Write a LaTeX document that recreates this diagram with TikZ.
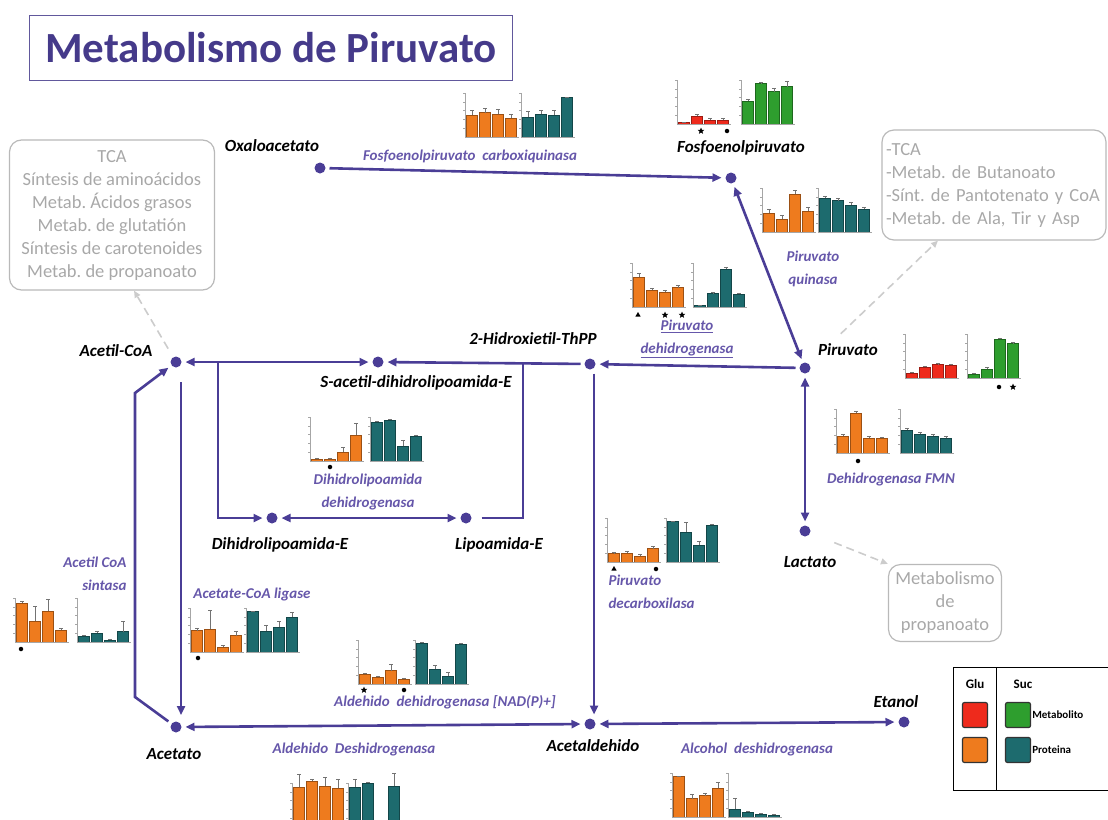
\documentclass[tikz,border=0pt]{standalone}
\usepackage{fontspec}
\setmainfont{Carlito}
\frenchspacing
\usetikzlibrary{arrows.meta,shapes.geometric,positioning,calc}

\definecolor{pathc}{HTML}{4A3D96}
\definecolor{enzc}{HTML}{6657AA}
\definecolor{grayt}{HTML}{A8A8A8}
\definecolor{titc}{HTML}{453A8A}
\definecolor{glured}{HTML}{EE2A1C}
\definecolor{gluorange}{HTML}{EE7B1E}
\definecolor{sucgreen}{HTML}{2E9E2E}
\definecolor{sucteal}{HTML}{1D6B6E}

\tikzset{
  >={Triangle[length=9pt,width=8pt]},
  met/.style={circle, fill=pathc, inner sep=0pt, minimum size=11pt, outer sep=4pt},
  metlabel/.style={font=\fontsize{17}{20}\selectfont\bfseries\itshape},
  enz/.style={font=\fontsize{15}{23}\selectfont\bfseries\itshape, text=enzc, align=center},
  rxn/.style={draw=pathc, line width=2.6pt, ->},
  rxnboth/.style={draw=pathc, line width=2.6pt, <->},
  link/.style={draw=pathc, line width=2.6pt},
  graybox/.style={draw=gray!55, line width=1.2pt, rounded corners=12pt, text=grayt,
    font=\fontsize{18.5}{23}\selectfont, align=center, inner sep=2pt},
  graylink/.style={draw=gray!40, line width=1.6pt, dash pattern=on 8pt off 5pt,
    -{Triangle[length=7pt,width=6pt]}},
  axisline/.style={draw=gray!70, line width=0.4pt},
  errbar/.style={draw=black!55, line width=0.4pt},
  sigdot/.style={circle, fill=black, inner sep=0pt, minimum size=4.5pt},
  sigstar/.style={star, star points=5, star point ratio=2.3, fill=black, inner sep=0pt, minimum size=7pt},
  sigtri/.style={regular polygon, regular polygon sides=3, fill=black, inner sep=0pt, minimum size=6pt},
  legsq/.style={draw=black!80, line width=1.2pt, rounded corners=2pt, minimum size=25pt, inner sep=0pt},
  legtext/.style={font=\fontsize{11}{13}\selectfont\bfseries, anchor=west, inner sep=0pt},
}

% one panel of four bars: x, baseline y, colour, heights/errors
\newcommand{\barpanel}[4]{%
  \foreach \h/\e [count=\i] in {#4}{%
    \pgfmathsetmacro{\bx}{#1+1.5+13*(\i-1)}%
    \filldraw[fill=#3, draw=#3!65!black, line width=0.4pt] (\bx,#2) rectangle ++(11,-42*\h);
    \draw[errbar] (\bx+5.5,#2-42*\h) -- ++(0,-42*\e) ++(-2,0) -- ++(4,0);
  }
  \draw[axisline] (#1,#2) -- ++(0,-44);
  \foreach \t in {1,...,5} \draw[axisline] (#1,#2-8.8*\t) -- ++(-2,0);
  \draw[axisline] (#1,#2) -- ++(54,0);
}

\begin{document}
\begin{tikzpicture}[x=1pt, y=-1pt]
\useasboundingbox (0,0) rectangle (1108,819);

% title
\node[draw=titc!85, line width=1pt, minimum width=483pt, minimum height=65pt,
  font=\fontsize{43}{46}\selectfont\bfseries, text=titc] (title) at (271,48) {Metabolismo de Piruvato};

% metabolites
\node[met] (oxa) at (320,168) {};
\node[met] (pep) at (731,178) {};
\node[met] (pyr) at (805,368) {};
\node[met] (hte) at (590,364) {};
\node[met] (sac) at (378,362) {};
\node[met] (acoa) at (176,362) {};
\node[met] (dle) at (272,518) {};
\node[met] (lpe) at (466,518) {};
\node[met] (lac) at (805,531) {};
\node[met] (ace) at (176,727) {};
\node[met] (ald) at (590,724) {};
\node[met] (eth) at (904,722) {};

\node[metlabel] (oxalabel) at (272,146) {Oxaloacetato};
\node[metlabel] (peplabel) at (741,148) {Fosfoenolpiruvato};
\node[metlabel] (pyrlabel) at (848,350) {Piruvato};
\node[metlabel] (htelabel) at (533,339) {2-Hidroxietil-ThPP};
\node[metlabel] (saclabel) at (416,383) {S-acetil-dihidrolipoamida-E};
\node[metlabel] (acoalabel) at (116,351) {Acetil-CoA};
\node[metlabel] (dlelabel) at (280,545) {Dihidrolipoamida-E};
\node[metlabel] (lpelabel) at (499,545) {Lipoamida-E};
\node[metlabel] (laclabel) at (810,562) {Lactato};
\node[metlabel] (acelabel) at (174,754) {Acetato};
\node[metlabel] (aldlabel) at (593,746) {Acetaldehido};
\node[metlabel] (ethlabel) at (896,702) {Etanol};

% enzymes
\node[enz] (pepck) at (470,156) {Fosfoenolpiruvato\ \ carboxiquinasa};
\node[enz] (pk) at (813,269) {Piruvato\\quinasa};
\node[enz] (pdh) at (687,339) {\underline{Piruvato}\\\underline{dehidrogenasa}};
\node[enz] (dld) at (368,492) {Dihidrolipoamida\\dehidrogenasa};
\node[enz] (fmn) at (891,479) {Dehidrogenasa FMN};
\node[enz, align=left, anchor=west] (pdc) at (605,592) {Piruvato\\decarboxilasa};
\node[enz, align=right, anchor=east] (acs) at (130,574) {Acetil CoA\\sintasa};
\node[enz] (acl) at (252,594) {Acetate-CoA ligase};
\node[enz] (aldhnad) at (445,702) {Aldehido\ \ dehidrogenasa [NAD(P)+]};
\node[enz] (aldh) at (354,749) {Aldehido\ \ Deshidrogenasa};
\node[enz] (adh) at (757,749) {Alcohol\ \ deshidrogenasa};

% other pathways
\node[graybox, minimum width=205pt, minimum height=150pt] (leftbox) at (112,215)
  {TCA\\Síntesis de aminoácidos\\Metab. Ácidos grasos\\Metab. de glutatión\\Síntesis de carotenoides\\Metab. de propanoato};
\node[graybox, minimum width=224pt, minimum height=110pt, align=left, text width=216pt] (rightbox) at (994,185)
  {-TCA\\-Metab. de Butanoato\\-Sínt. de Pantotenato y CoA\\-Metab. de Ala, Tir y Asp};
\node[graybox, minimum width=113pt, minimum height=77pt] (lacbox) at (945,603)
  {Metabolismo\\de\\propanoato};

% reactions
\draw[rxn] (oxa) -- (pep);
\draw[rxnboth] (pep) -- (pyr);
\draw[rxn] (pyr) -- (hte);
\draw[rxn] (hte) -- (sac);
\draw[rxnboth] (acoa) -- (sac);
\coordinate (lpejoin) at (523,364);
\draw[link, shorten <=6pt] (lpe) -- (lpe -| lpejoin) -- (lpejoin);
\coordinate (dlejoin) at (218,362);
\draw[rxn] (dlejoin) |- (dle);
\draw[rxnboth] (dle) -- (lpe);
\draw[rxnboth] (pyr) -- (lac);
\draw[rxn] ([xshift=4pt]hte.south) -- ([xshift=4pt]ald.north);
\draw[rxnboth] (ald) -- (eth);
\draw[rxnboth] (ace) -- (ald);
\draw[rxn] ([xshift=5pt,yshift=-20pt]acoa.center) -- ([xshift=5pt,yshift=12pt]ace.center);
\draw[rxn] (ace) -- (135,697) -- (135,393) -- (acoa);

% links to other pathways
\draw[graylink, shorten <=6pt] (acoa) -- ([xshift=22pt]leftbox.south);
\draw[graylink, shorten <=40pt] (pyr) -- ([xshift=-56pt]rightbox.south);
\draw[graylink, shorten <=22pt] (lac) -- (lacbox.north west);

% bar charts
\barpanel{465}{137}{gluorange}{0.52/0.12,0.58/0.1,0.54/0.12,0.45/0.1}
\barpanel{521}{137}{sucteal}{0.47/0.15,0.54/0.1,0.52/0.12,0.95/0}
\barpanel{677}{124}{glured}{0.04/0,0.18/0.05,0.1/0.04,0.1/0.03}
\barpanel{741}{124}{sucgreen}{0.55/0.04,0.96/0.03,0.77/0.08,0.89/0.12}
\node[sigstar] (pepm1) at (701,131) {};
\node[sigdot] (pepm2) at (727,131) {};
\barpanel{762}{232}{gluorange}{0.45/0.1,0.3/0.1,0.9/0.1,0.5/0.1}
\barpanel{818}{232}{sucteal}{0.8/0.05,0.75/0.05,0.65/0.05,0.55/0.05}
\barpanel{632}{307}{gluorange}{0.72/0.08,0.4/0.05,0.36/0.05,0.46/0.05}
\barpanel{693}{307}{sucteal}{0.04/0,0.32/0.04,0.9/0.04,0.3/0.04}
\node[sigtri] (pdhm1) at (638,315) {};
\node[sigstar] (pdhm2) at (665,315) {};
\node[sigstar] (pdhm3) at (682,315) {};
\barpanel{905}{378}{glured}{0.12/0.03,0.26/0.03,0.32/0.03,0.3/0.03}
\barpanel{967}{378}{sucgreen}{0.1/0.02,0.22/0.03,0.92/0.03,0.82/0.03}
\node[sigdot] (pyrm1) at (999,387) {};
\node[sigstar] (pyrm2) at (1013,387) {};
\barpanel{836}{453}{gluorange}{0.4/0.05,0.95/0.05,0.35/0.05,0.35/0.03}
\barpanel{900}{453}{sucteal}{0.55/0.05,0.45/0.04,0.4/0.04,0.35/0.04}
\node[sigdot] (fmnm1) at (858,461) {};
\barpanel{310}{461}{gluorange}{0.04/0.02,0.04/0.02,0.22/0.1,0.61/0.3}
\barpanel{370}{461}{sucteal}{0.92/0.03,0.98/0.02,0.35/0.15,0.59/0.03}
\node[sigdot] (dldm1) at (330,467) {};
\barpanel{607}{562}{gluorange}{0.2/0.03,0.22/0.03,0.14/0.05,0.32/0.05}
\barpanel{666}{562}{sucteal}{0.96/0.02,0.72/0.22,0.4/0.1,0.88/0.03}
\node[sigtri] (pdcm1) at (614,569) {};
\node[sigdot] (pdcm2) at (656,569) {};
\barpanel{15}{642}{gluorange}{0.93/0.05,0.5/0.35,0.73/0.28,0.29/0.03}
\barpanel{77}{642}{sucteal}{0.14/0.03,0.21/0.05,0.04/0.02,0.25/0.25}
\node[sigdot] (acsm1) at (21,649) {};
\barpanel{190}{652}{gluorange}{0.51/0.05,0.54/0.45,0.12/0.05,0.39/0.1}
\barpanel{246}{652}{sucteal}{0.96/0.02,0.49/0.15,0.59/0.15,0.84/0.1}
\node[sigdot] (aclm1) at (198,658) {};
\barpanel{358}{684}{gluorange}{0.23/0.03,0.16/0.02,0.32/0.15,0.12/0.02}
\barpanel{415}{684}{sucteal}{0.98/0.02,0.35/0.1,0.18/0.1,0.95/0.03}
\node[sigstar] (aldhm1) at (364,690) {};
\node[sigdot] (aldhm2) at (404,690) {};
\barpanel{292}{827}{gluorange}{0.95/0.3,1.1/0.05,0.98/0.2,0.93/0.2}
\barpanel{348}{827}{sucteal}{0.95/0.2,1.05/0.02,0.1/0.05,0.98/0.3}
\barpanel{672}{817}{gluorange}{0.96/0.02,0.44/0.1,0.51/0.05,0.68/0.15}
\barpanel{728}{817}{sucteal}{0.19/0.25,0.12/0.03,0.07/0.02,0.05/0.02}

% legend
\draw[line width=1pt] (953,667) rectangle (1120,790);
\draw[line width=1pt] (996,667) -- (996,790);
\node[font=\fontsize{13}{15}\selectfont\bfseries] (glu) at (975,684) {Glu};
\node[font=\fontsize{13}{15}\selectfont\bfseries] (suc) at (1023,684) {Suc};
\node[legsq, fill=glured] (legred) at (975,715) {};
\node[legsq, fill=gluorange] (legorange) at (975,750) {};
\node[legsq, fill=sucgreen] (leggreen) at (1018,715) {};
\node[legsq, fill=sucteal] (legteal) at (1018,750) {};
\node[legtext, right=1pt of leggreen] (legmet) {Metabolito};
\node[legtext, right=1pt of legteal] (legprot) {Proteina};
\end{tikzpicture}
\end{document}
